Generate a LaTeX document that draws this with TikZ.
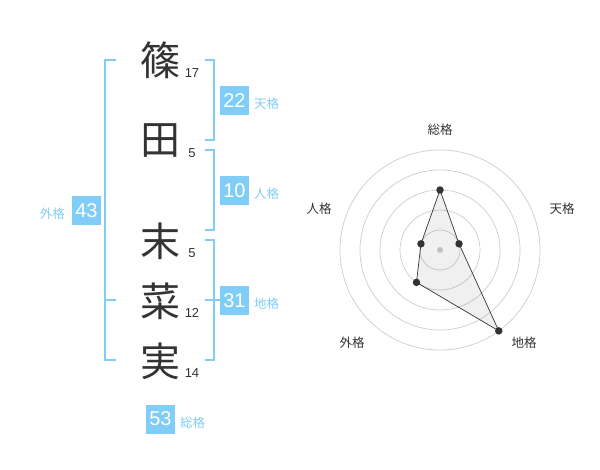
\documentclass[tikz,border=0pt]{standalone}
\usepackage{fontspec}
\setmainfont{Liberation Sans}
\newfontfamily\cjk{Noto Sans CJK JP}
\definecolor{lb}{RGB}{128,205,248}
\definecolor{txt}{RGB}{51,51,51}
\definecolor{ringc}{RGB}{205,205,205}
\begin{document}
\begin{tikzpicture}[x=1pt,y=-1pt,
  kanji/.style={font=\cjk\fontsize{40}{40}\selectfont, text=txt, inner sep=0},
  strk/.style={font=\fontsize{13}{13}\selectfont, text=txt, inner sep=0},
  valbox/.style={fill=lb, text=white, minimum size=29pt, inner sep=0, font=\fontsize{20}{20}\selectfont},
  lbl/.style={text=lb, font=\cjk\fontsize{12.5}{12.5}\selectfont, inner sep=0},
  brk/.style={draw=lb, line width=2pt},
  ring/.style={draw=ringc, line width=0.7pt},
  rlbl/.style={text=txt, font=\cjk\fontsize{12.5}{12.5}\selectfont, inner sep=0},
  dotn/.style={circle, fill=txt, inner sep=0, minimum size=7.5pt},
  poly/.style={draw=txt, line width=0.7pt, fill=black, fill opacity=0.06}
]
\useasboundingbox (0,0) rectangle (600,470);

% name characters
\node[kanji] (c1) at (160,60) {篠};
\node[kanji] (c2) at (160,141) {田};
\node[kanji] (c3) at (160,241) {末};
\node[kanji] (c4) at (160,301) {菜};
\node[kanji] (c5) at (160,361) {実};
\node[strk] (n1) at (192,73) {17};
\node[strk] (n2) at (192,153) {5};
\node[strk] (n3) at (192,253) {5};
\node[strk] (n4) at (192,313) {12};
\node[strk] (n5) at (192,373.5) {14};

% brackets
\draw[brk] (116,60) -- (105,60) -- (105,360) -- (116,360);
\draw[brk] (105,300) -- (116,300);
\draw[brk] (205,60) -- (214,60) -- (214,140) -- (205,140);
\draw[brk] (205,150) -- (214,150) -- (214,230) -- (205,230);
\draw[brk] (205,240) -- (214,240) -- (214,360) -- (205,360);
\draw[brk] (205,300) -- (221,300);

% value boxes and labels
\node[valbox] (b43) at (86.5,210.5) {43};
\node[lbl, anchor=east] (l43) at (65,213.5) {外格};
\node[valbox] (b22) at (234.5,100.5) {22};
\node[lbl, anchor=west] (l22) at (254,104) {天格};
\node[valbox] (b10) at (234.5,190.5) {10};
\node[lbl, anchor=west] (l10) at (254,194) {人格};
\node[valbox] (b31) at (234.5,300.5) {31};
\node[lbl, anchor=west] (l31) at (254,304) {地格};
\node[valbox] (b53) at (160.5,419) {53};
\node[lbl, anchor=west] (l53) at (180,422.5) {総格};

% radar chart
\coordinate (O) at (440,250);
\foreach \r in {20,40,60,80,100} \draw[ring] (O) circle[radius=\r];
\fill[ringc] (O) circle[radius=3];
\path (O) ++(-90:60) coordinate (p1);
\path (O) ++(-18:20) coordinate (p2);
\path (O) ++(54:100) coordinate (p3);
\path (O) ++(126:40) coordinate (p4);
\path (O) ++(198:20) coordinate (p5);
\draw[poly] (p1) -- (p2) -- (p3) -- (p4) -- (p5) -- cycle;
\foreach \p in {p1,p2,p3,p4,p5} \node[dotn] (d\p) at (\p) {};
\node[rlbl] (r1) at (440,130) {総格};
\node[rlbl] (r2) at (562,208.5) {天格};
\node[rlbl] (r3) at (319,209) {人格};
\node[rlbl] (r4) at (352,342.5) {外格};
\node[rlbl] (r5) at (524,342.5) {地格};
\end{tikzpicture}
\end{document}
